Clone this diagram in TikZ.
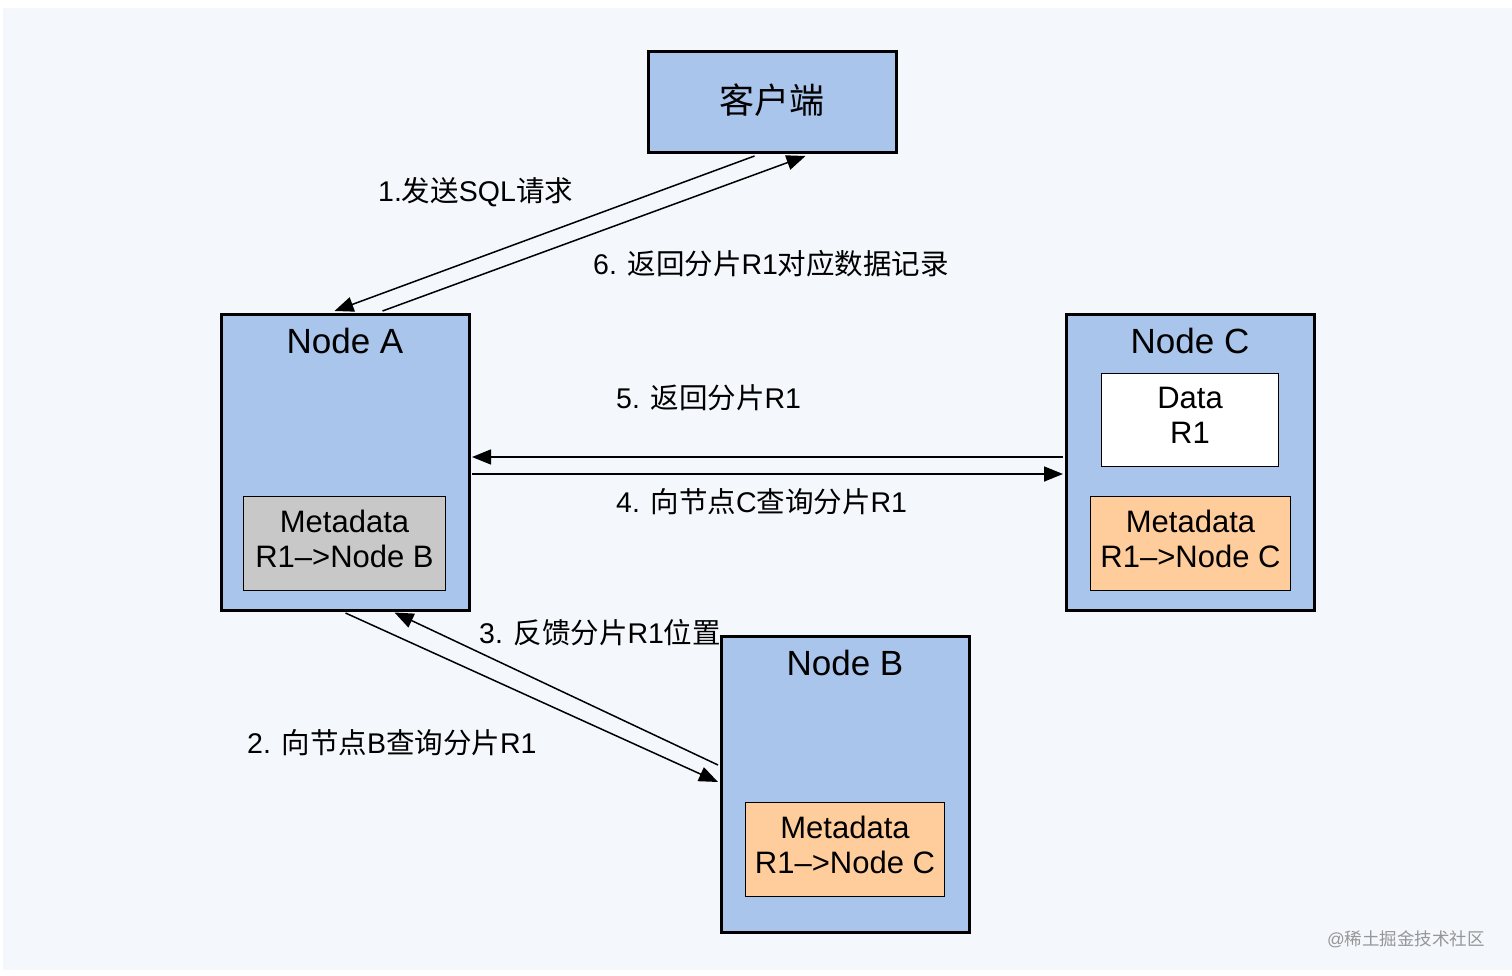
\documentclass[tikz,border=0pt]{standalone}
\usepackage{fontspec}
\setmainfont{Liberation Sans}
\newfontfamily\cjk{Noto Sans CJK SC}
\newcommand\zh[1]{{\cjk #1}}
\usetikzlibrary{arrows.meta,calc}
\definecolor{bgc}{RGB}{244,247,252}
\definecolor{boxblue}{RGB}{169,197,236}
\definecolor{metagray}{RGB}{200,200,200}
\definecolor{peach}{RGB}{255,205,155}
\definecolor{wmgray}{RGB}{150,150,150}
\tikzset{
  bigbox/.style={draw=black,line width=3pt,fill=boxblue,rectangle,inner sep=0pt},
  smallbox/.style={draw=black,line width=1.8pt,rectangle,inner sep=0pt},
  boxtxt/.style={inner sep=0pt,align=center,font=\fontsize{31}{35}\selectfont},
  title/.style={inner sep=0pt,font=\fontsize{35}{40}\selectfont},
  lbl/.style={inner sep=0pt,anchor=west,font=\fontsize{28.5}{32}\selectfont},
  arr/.style={line width=1.5pt,-{Triangle[length=19pt,width=15pt]}},
}
\begin{document}
\begin{tikzpicture}[x=1pt,y=-1pt]
\useasboundingbox (0,0) rectangle (1512,976);
\fill[white] (0,0) rectangle (1512,976);
\fill[bgc] (3,8) rectangle (1512,970);

% main boxes
\node[bigbox,minimum width=248pt,minimum height=101pt] (cl) at (772,102.5) {};
\node[title] (clt) at (772,100) {\zh{客户端}};
\node[bigbox,minimum width=248pt,minimum height=296pt] (nA) at (345,462) {};
\node[title] (nAt) at (345,341) {Node A};
\node[bigbox,minimum width=248pt,minimum height=296pt] (nC) at (1190,462) {};
\node[title] (nCt) at (1190,341) {Node C};
\node[bigbox,minimum width=248pt,minimum height=296pt] (nB) at (845,784) {};
\node[title] (nBt) at (845,663) {Node B};

% inner boxes
\node[smallbox,fill=metagray,minimum width=202pt,minimum height=94pt] (mA) at (344.5,543.5) {};
\node[boxtxt] (mAt) at (344.5,538.5) {Metadata\\R1–>Node B};
\node[smallbox,fill=white,minimum width=177pt,minimum height=93pt] (dC) at (1190,420) {};
\node[boxtxt] (dCt) at (1190,415.5) {Data\\R1};
\node[smallbox,fill=peach,minimum width=200pt,minimum height=94pt] (mC) at (1190.5,543.5) {};
\node[boxtxt] (mCt) at (1190.5,538.5) {Metadata\\R1–>Node C};
\node[smallbox,fill=peach,minimum width=199pt,minimum height=94pt] (mB) at (845,849.5) {};
\node[boxtxt] (mBt) at (845,844.5) {Metadata\\R1–>Node C};

% arrows
\draw[arr] ([xshift=108pt,yshift=-1.5pt]cl.south west) -- ([xshift=115pt,yshift=1.5pt]nA.north west);
\draw[arr] ([xshift=163pt,yshift=1.5pt]nA.north west) -- ([xshift=159pt,yshift=-1.5pt]cl.south west);
\draw[arr] ([xshift=-1.5pt,yshift=5pt]nC.west) -- ([xshift=1.5pt,yshift=5pt]nA.east);
\draw[arr] ([xshift=1.5pt,yshift=-12pt]nA.east) -- ([xshift=-1.5pt,yshift=-12pt]nC.west);
\draw[arr] ([xshift=126pt,yshift=-1.5pt]nA.south west) -- ([xshift=-1.5pt,yshift=2pt]nB.west);
\draw[arr] ([xshift=-1.5pt,yshift=19pt]nB.west) -- ([xshift=175pt,yshift=-1pt]nA.south west);

% labels
\node[lbl] (l1) at (378,192) {1.\zh{发送}SQL\zh{请求}};
\node[lbl] (l6) at (593,264) {6. \zh{返回分片}R1\zh{对应数据记录}};
\node[lbl] (l5) at (616,398) {5. \zh{返回分片}R1};
\node[lbl] (l4) at (616,502) {4. \zh{向节点}C\zh{查询分片}R1};
\node[lbl] (l3) at (479,633) {3. \zh{反馈分片}R1\zh{位置}};
\node[lbl] (l2) at (247,743) {2. \zh{向节点}B\zh{查询分片}R1};

\node[inner sep=0pt,anchor=east,text=wmgray,font=\fontsize{17.5}{20}\selectfont] (wm) at (1485,939) {@\zh{稀土掘金技术社区}};
\end{tikzpicture}
\end{document}
